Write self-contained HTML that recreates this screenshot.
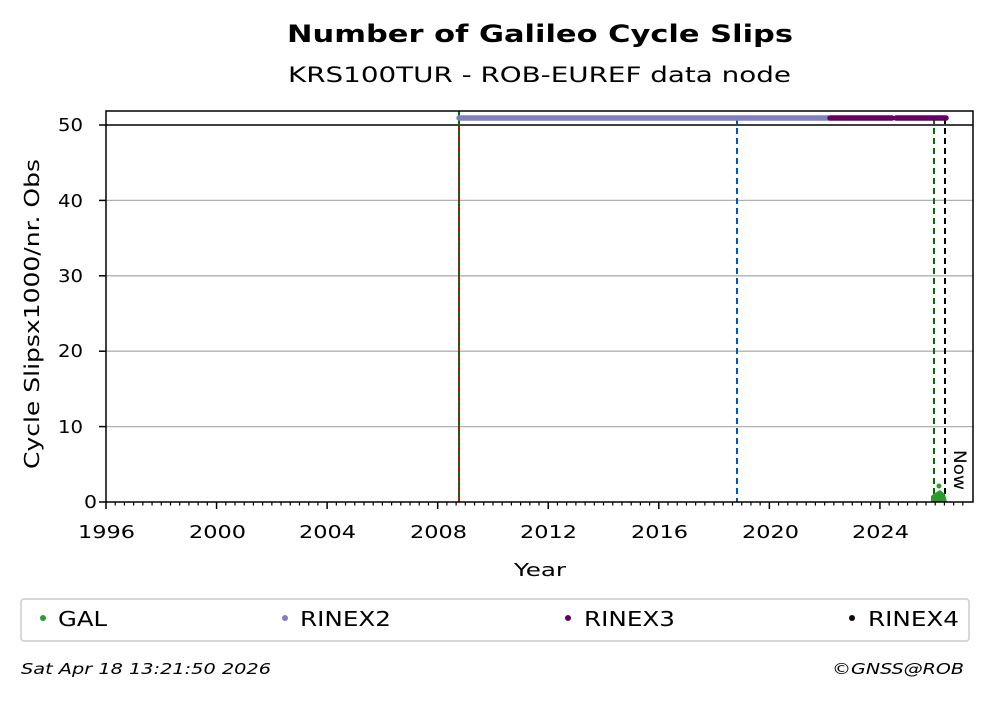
<!DOCTYPE html>
<html><head><meta charset="utf-8"><style>
body{margin:0;background:#fff;}
svg text{font-family:"DejaVu Sans","Liberation Sans",sans-serif;fill:#000;}
</style></head><body>
<svg id="s" width="992" height="699" viewBox="0 0 992 699" xmlns="http://www.w3.org/2000/svg">
<text x="287" y="42" font-size="24" font-weight="bold" textLength="506" lengthAdjust="spacingAndGlyphs">Number of Galileo Cycle Slips</text>
<text x="288" y="82" font-size="21" textLength="503" lengthAdjust="spacingAndGlyphs">KRS100TUR - ROB-EUREF data node</text>
<g stroke="#b0b0b0" stroke-width="1.3">
<line x1="106" x2="973" y1="426.6" y2="426.6"/>
<line x1="106" x2="973" y1="351.2" y2="351.2"/>
<line x1="106" x2="973" y1="275.8" y2="275.8"/>
<line x1="106" x2="973" y1="200.4" y2="200.4"/>
</g>
<line x1="106" x2="973" y1="125" y2="125" stroke="#000" stroke-width="1.5"/>
<line x1="459" x2="459" y1="111" y2="502" stroke="#d00" stroke-width="2"/>
<line x1="459" x2="459" y1="111" y2="502" stroke="#007000" stroke-width="2" stroke-dasharray="6,4"/>
<line x1="737" x2="737" y1="118" y2="502" stroke="#0055c0" stroke-width="2" stroke-dasharray="6,4"/>
<line x1="934" x2="934" y1="118" y2="502" stroke="#007000" stroke-width="2" stroke-dasharray="6,4"/>
<line x1="945" x2="945" y1="118" y2="502" stroke="#000" stroke-width="2" stroke-dasharray="6,4"/>
<line x1="459" x2="828" y1="118" y2="118" stroke="#8080c0" stroke-width="5.5" stroke-linecap="round"/>
<line x1="830" x2="892" y1="118" y2="118" stroke="#660066" stroke-width="5.5" stroke-linecap="round"/>
<line x1="896" x2="946" y1="118" y2="118" stroke="#660066" stroke-width="5.5" stroke-linecap="round"/>
<path d="M931 502 L931 496 Q936 492 940 490 L945 494 L947 502 Z" fill="#2e9a2e"/>
<circle cx="939" cy="486" r="2.5" fill="#2e9a2e"/>
<text x="0" y="0" font-size="17" transform="translate(954,450) rotate(90)" textLength="40" lengthAdjust="spacingAndGlyphs">Now</text>
<rect x="106" y="111" width="867" height="391" fill="none" stroke="#000" stroke-width="1.5"/>
<g id="ticks" stroke="#000"></g>
<g font-size="18">
<text x="84" y="508" textLength="13" lengthAdjust="spacingAndGlyphs">0</text>
<text x="58" y="433" textLength="25" lengthAdjust="spacingAndGlyphs">10</text>
<text x="58" y="357" textLength="25" lengthAdjust="spacingAndGlyphs">20</text>
<text x="58" y="282" textLength="25" lengthAdjust="spacingAndGlyphs">30</text>
<text x="58" y="207" textLength="25" lengthAdjust="spacingAndGlyphs">40</text>
<text x="58" y="131" textLength="25" lengthAdjust="spacingAndGlyphs">50</text>
</g>
<g font-size="18">
<text x="78" y="538" textLength="57" lengthAdjust="spacingAndGlyphs">1996</text>
<text x="189" y="538" textLength="57" lengthAdjust="spacingAndGlyphs">2000</text>
<text x="299" y="538" textLength="57" lengthAdjust="spacingAndGlyphs">2004</text>
<text x="410" y="538" textLength="57" lengthAdjust="spacingAndGlyphs">2008</text>
<text x="520" y="538" textLength="57" lengthAdjust="spacingAndGlyphs">2012</text>
<text x="631" y="538" textLength="57" lengthAdjust="spacingAndGlyphs">2016</text>
<text x="742" y="538" textLength="57" lengthAdjust="spacingAndGlyphs">2020</text>
<text x="852" y="538" textLength="57" lengthAdjust="spacingAndGlyphs">2024</text>
<text x="514" y="576" textLength="52" lengthAdjust="spacingAndGlyphs">Year</text>
</g>
<text font-size="20" transform="translate(39,469) rotate(-90)" textLength="310" lengthAdjust="spacingAndGlyphs">Cycle Slipsx1000/nr. Obs</text>
<rect x="21" y="599" width="948" height="42" rx="3" fill="none" stroke="#ccc" stroke-width="1.5"/>
<g font-size="20">
<circle cx="43" cy="618" r="3" fill="#2e9a2e"/><text x="58" y="626" textLength="49" lengthAdjust="spacingAndGlyphs">GAL</text>
<circle cx="285" cy="618" r="3" fill="#8080c0"/><text x="300" y="626" textLength="91" lengthAdjust="spacingAndGlyphs">RINEX2</text>
<circle cx="568" cy="618" r="3" fill="#660066"/><text x="584" y="626" textLength="91" lengthAdjust="spacingAndGlyphs">RINEX3</text>
<circle cx="852" cy="618" r="3" fill="#1a0010"/><text x="868" y="626" textLength="91" lengthAdjust="spacingAndGlyphs">RINEX4</text>
</g>
<text x="21" y="674" font-size="15" font-style="italic" textLength="250" lengthAdjust="spacingAndGlyphs">Sat Apr 18 13:21:50 2026</text>
<text x="832" y="674" font-size="15" font-style="italic" textLength="132" lengthAdjust="spacingAndGlyphs">©GNSS@ROB</text>
</svg>
<script>
var g=document.getElementById('ticks'),h='';
for(var i=0;i<=93;i++){var x=106+i*27.64/3;var maj=i%12==0;h+='<line x1="'+x+'" x2="'+x+'" y1="502" y2="'+(maj?509:505.5)+'" stroke-width="'+(maj?1.5:1.2)+'"/>';}
for(var j=0;j<=5;j++){var y=502-j*75.4;h+='<line x1="99" x2="106" y1="'+y+'" y2="'+y+'" stroke-width="1.5"/>';}
g.innerHTML=h;
</script>
</body></html>
